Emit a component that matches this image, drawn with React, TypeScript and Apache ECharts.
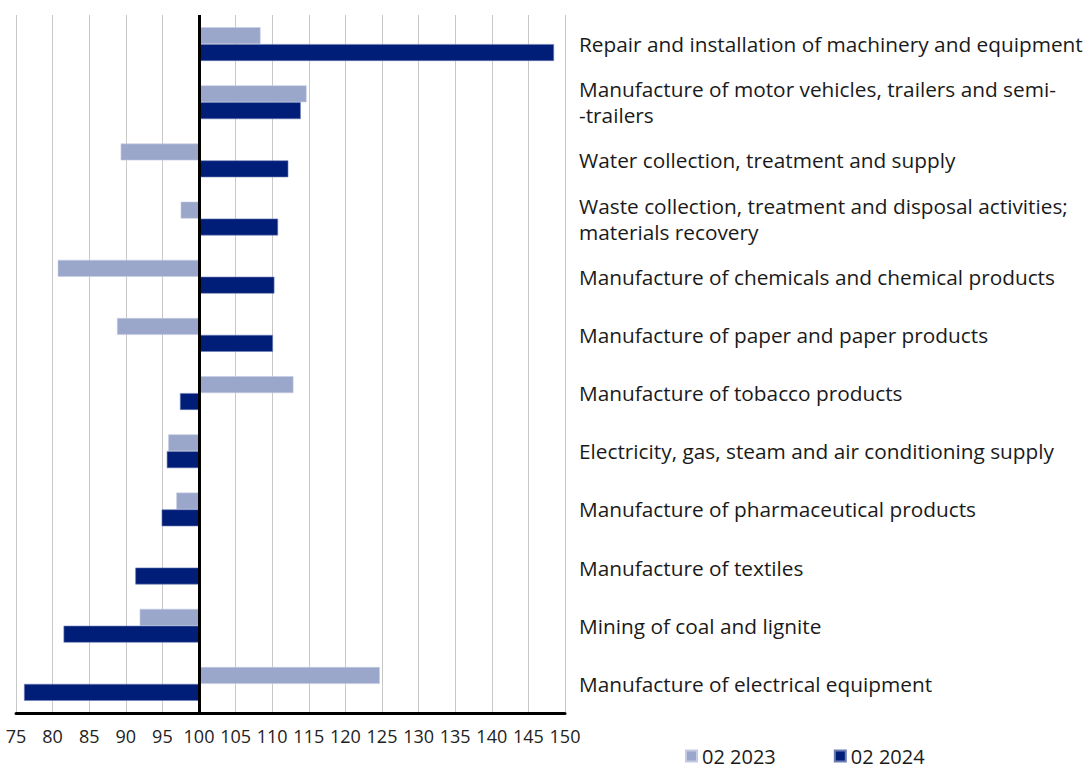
import React, { useEffect, useRef } from "react";
import * as echarts from "echarts";

const categories: string[] = [
  "Repair and installation of machinery and equipment",
  "Manufacture of motor vehicles, trailers and semi-\n-trailers",
  "Water collection, treatment and supply",
  "Waste collection, treatment and disposal activities;\nmaterials recovery",
  "Manufacture of chemicals and chemical products",
  "Manufacture of paper and paper products",
  "Manufacture of tobacco products",
  "Electricity, gas, steam and air conditioning supply",
  "Manufacture of pharmaceutical products",
  "Manufacture of textiles",
  "Mining of coal and lignite",
  "Manufacture of electrical equipment",
];

const values2023: (number | null)[] = [108.4, 114.7, 89.3, 97.5, 80.7, 88.8, 112.9, 95.8, 96.9, null, 91.9, 124.7];
const values2024: (number | null)[] = [148.5, 113.9, 112.2, 110.8, 110.3, 110.1, 97.4, 95.6, 94.9, 91.3, 81.5, 76.1];

const seriesNames = ["02 2023", "02 2024"];
const BASE = 100;
const AXIS_MIN = 75;
const AXIS_MAX = 150;
const AXIS_STEP = 5;

const FONT = "'Open Sans', sans-serif";

export default function App() {
  const ref = useRef<HTMLDivElement>(null);
  useEffect(() => {
    if (!ref.current) return;
    const chart = echarts.init(ref.current, undefined, { renderer: "svg" });
    const shift = (arr: (number | null)[]) =>
      arr.map((v) => (v == null ? null : +(v - BASE).toFixed(3)));
    chart.setOption({
      animation: false,
      textStyle: { fontFamily: FONT },
      grid: { left: 16, right: 524, top: 15, bottom: 59, containLabel: false },
      legend: {
        data: seriesNames,
        left: 685,
        top: 744,
        padding: 0,
        itemWidth: 11,
        itemHeight: 11,
        itemGap: 58,
        icon: "rect",
        textStyle: { fontSize: 20, lineHeight: 24, color: "#1a1a1a", fontFamily: FONT },
      },
      xAxis: {
        type: "value",
        min: AXIS_MIN - BASE,
        max: AXIS_MAX - BASE,
        interval: AXIS_STEP,
        axisLine: { show: true, onZero: false, lineStyle: { color: "#000", width: 3 } },
        axisTick: { show: false },
        axisLabel: {
          fontSize: 18,
          color: "#222",
          margin: 14,
          fontFamily: FONT,
          formatter: (v: number) => String(Math.round(v + BASE)),
        },
        splitLine: { show: true, lineStyle: { color: "#c8c8c8", width: 1 } },
      },
      yAxis: {
        type: "category",
        data: categories,
        inverse: true,
        position: "right",
        axisLine: { show: false },
        axisTick: { show: false },
        axisLabel: {
          align: "left",
          margin: 14,
          fontSize: 20.8,
          lineHeight: 26,
          color: "#1a1a1a",
          fontFamily: FONT,
        },
      },
      series: [
        {
          name: seriesNames[0],
          type: "bar",
          data: shift(values2023),
          barGap: "0%",
          barCategoryGap: "42%",
          itemStyle: { color: "#9ba7ca", borderColor: "#c4cbe2", borderWidth: 0.6 },
          markLine: {
            silent: true,
            symbol: "none",
            label: { show: false },
            lineStyle: { color: "#000", width: 3, type: "solid" },
            data: [{ xAxis: 0 }],
          },
          z: 2,
        },
        {
          name: seriesNames[1],
          type: "bar",
          data: shift(values2024),
          barGap: "0%",
          barCategoryGap: "42%",
          itemStyle: { color: "#001e78", borderColor: "#6d7db5", borderWidth: 0.6 },
          z: 2,
        },
      ],
    });
    return () => chart.dispose();
  }, []);
  return (
    <div
      ref={ref}
      style={{ position: "absolute", left: 0, top: 0, width: 1089, height: 772, background: "#fff" }}
    />
  );
}
